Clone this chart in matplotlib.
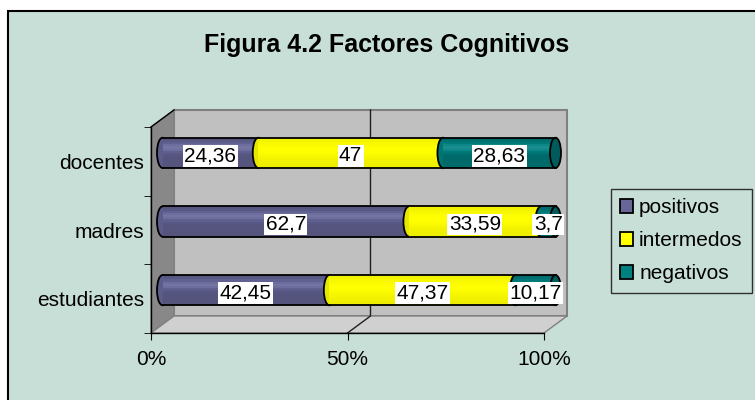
import numpy as np
import matplotlib
matplotlib.use("Agg")
import matplotlib.pyplot as plt
from matplotlib.patches import Rectangle, Ellipse, Polygon, Patch
from matplotlib.transforms import offset_copy
import matplotlib.colors as mcolors

plt.rcParams['font.family'] = ['Liberation Sans', 'DejaVu Sans']

# data
categories = ['estudiantes', 'madres', 'docentes']
series = ['positivos', 'intermedos', 'negativos']
positivos = [42.45, 62.7, 24.36]
intermedos = [47.37, 33.59, 47]
negativos = [10.17, 3.7, 28.63]
labels = [['42,45', '62,7', '24,36'],
          ['47,37', '33,59', '47'],
          ['10,17', '3,7', '28,63']]
colors = ['#666699', '#FFFF00', '#008080']
xticks = [0, 50, 100]
xticklabels = ['0%', '50%', '100%']

bg = '#C8DFD7'
W, H = 755, 400
fig = plt.figure(figsize=(W / 100, H / 100), dpi=100)
fig.patch.set_facecolor('white')

# chart area
fig.patches.append(Rectangle((8 / W, -0.1), 1.2, (H - 11) / H + 0.1, transform=fig.transFigure,
                             facecolor=bg, edgecolor='black', lw=1.5, zorder=-10))

ax = fig.add_axes([151 / W, 67 / H, 393 / W, 206 / H])
ax.set_zorder(2)
ax.set_xlim(0, 100)
ax.set_ylim(-0.5, 2.5)
ax.patch.set_visible(False)
for s in ['top', 'right']:
    ax.spines[s].set_visible(False)
for s in ['left', 'bottom']:
    ax.spines[s].set_color('black')
    ax.spines[s].set_linewidth(1.0)
    ax.spines[s].set_zorder(1)

ax.set_xticks(xticks)
ax.set_xticklabels(xticklabels, fontsize=15)
ax.tick_params(axis='x', length=5, direction='out', pad=7)
ax.set_yticks(range(len(categories)))
ax.set_yticklabels(categories, fontsize=15)
ax.set_yticks([-0.5, 0.5, 1.5, 2.5], minor=True)
ax.tick_params(axis='y', which='major', length=0, pad=5)
ax.tick_params(axis='y', which='minor', length=5, direction='out')

# 3D box (depth offset in pixels)
DX, DY = 23, 17
fig.canvas.draw()
ta = ax.transAxes
p00, p10, p01, p11 = ta.transform([(0, 0), (1, 0), (0, 1), (1, 1)])
off = np.array([DX, DY])
back = Polygon([p00 + off, p10 + off, p11 + off, p01 + off], closed=True, transform=None,
               facecolor='#C0C0C0', edgecolor='#808080', lw=1.5, zorder=0)
left = Polygon([p00, p00 + off, p01 + off, p01], closed=True, transform=None,
               facecolor='#888888', edgecolor='#808080', lw=1, zorder=0.1)
floor = Polygon([p00, p10, p10 + off, p00 + off], closed=True, transform=None,
                facecolor='#D0D0D0', edgecolor='#808080', lw=1, zorder=0.1)
for p in (back, left, floor):
    fig.patches.append(p)
fig.lines.append(plt.Line2D([p01[0], p01[0] + DX], [p01[1], p01[1] + DY], transform=None,
                            color='black', lw=1, zorder=0.2))
# 50% gridline
gt = ax.transData.transform([(50, 0)])[0][0]
fig.lines.append(plt.Line2D([gt, gt + DX, gt + DX], [p00[1], p00[1] + DY, p01[1] + DY],
                            transform=None, color='#202020', lw=1, zorder=0.2))

# cylinders at mid depth
tb = offset_copy(ax.transData, fig=fig, x=DX / 2, y=DY / 2, units='dots')
tl = offset_copy(ax.transData, fig=fig, x=DX / 2, y=DY / 2 - 3, units='dots')
bh = 0.44
ew = 2.8
vals = np.array([positivos, intermedos, negativos])


def shade(c, f):
    r = np.array(mcolors.to_rgb(c))
    if f >= 1:
        return tuple(r + (1 - r) * (f - 1))
    return tuple(r * f)


nstrip = 14
for i in range(len(categories)):
    lefts = np.concatenate([[0], np.cumsum(vals[:, i])])
    for j in range(len(series)):
        x0, w = lefts[j], vals[j, i]
        c = colors[j]
        ax.add_patch(Ellipse((x0, i), ew, bh, facecolor=shade(c, 0.9), edgecolor='black',
                             lw=1.3, transform=tb, zorder=3, clip_on=False))
        for k in range(nstrip):
            t = (k + 0.5) / nstrip
            f = 0.82 + 0.28 * np.exp(-((t - 0.68) / 0.16) ** 2)
            if c == '#FFFF00':
                f = 0.93 + 0.07 * np.exp(-((t - 0.6) / 0.3) ** 2)
            ax.add_patch(Rectangle((x0, i - bh / 2 + bh * k / nstrip), w, bh / nstrip + 0.002,
                                   facecolor=shade(c, f), edgecolor='none',
                                   transform=tb, zorder=3, clip_on=False))
    ax.add_patch(Ellipse((100, i), ew, bh, facecolor=shade(colors[-1], 0.72),
                         edgecolor='black', lw=1.3, transform=tb, zorder=3, clip_on=False))
    for yy in (i + bh / 2, i - bh / 2):
        ax.plot([0, 100], [yy, yy], color='black', lw=1.3, transform=tb, zorder=3,
                clip_on=False)
    for j in range(len(series)):
        cx = lefts[j] + vals[j, i] / 2
        ax.text(cx, i, labels[j][i], transform=tl, ha='center', va='center', fontsize=15,
                zorder=5, clip_on=False,
                bbox=dict(boxstyle='square,pad=0.07', facecolor='white', edgecolor='none'))

fig.text(387 / W, 1 - 45 / H, 'Figura 4.2 Factores Cognitivos', ha='center', va='center',
         fontsize=18, fontweight='bold')

handles = [Patch(facecolor=c, edgecolor='black', lw=1.3) for c in colors]
leg = fig.legend(handles, series, loc='upper left', bbox_to_anchor=(611 / W, 1 - 189 / H),
                 fontsize=15, frameon=True, fancybox=False, framealpha=1, facecolor=bg,
                 edgecolor='#303030', handlelength=0.6, handleheight=0.6, handletextpad=0.3,
                 labelspacing=0.67, borderpad=0.45, borderaxespad=0)
leg.get_frame().set_linewidth(1)

fig.savefig('out.png', dpi=100, facecolor=fig.get_facecolor())
